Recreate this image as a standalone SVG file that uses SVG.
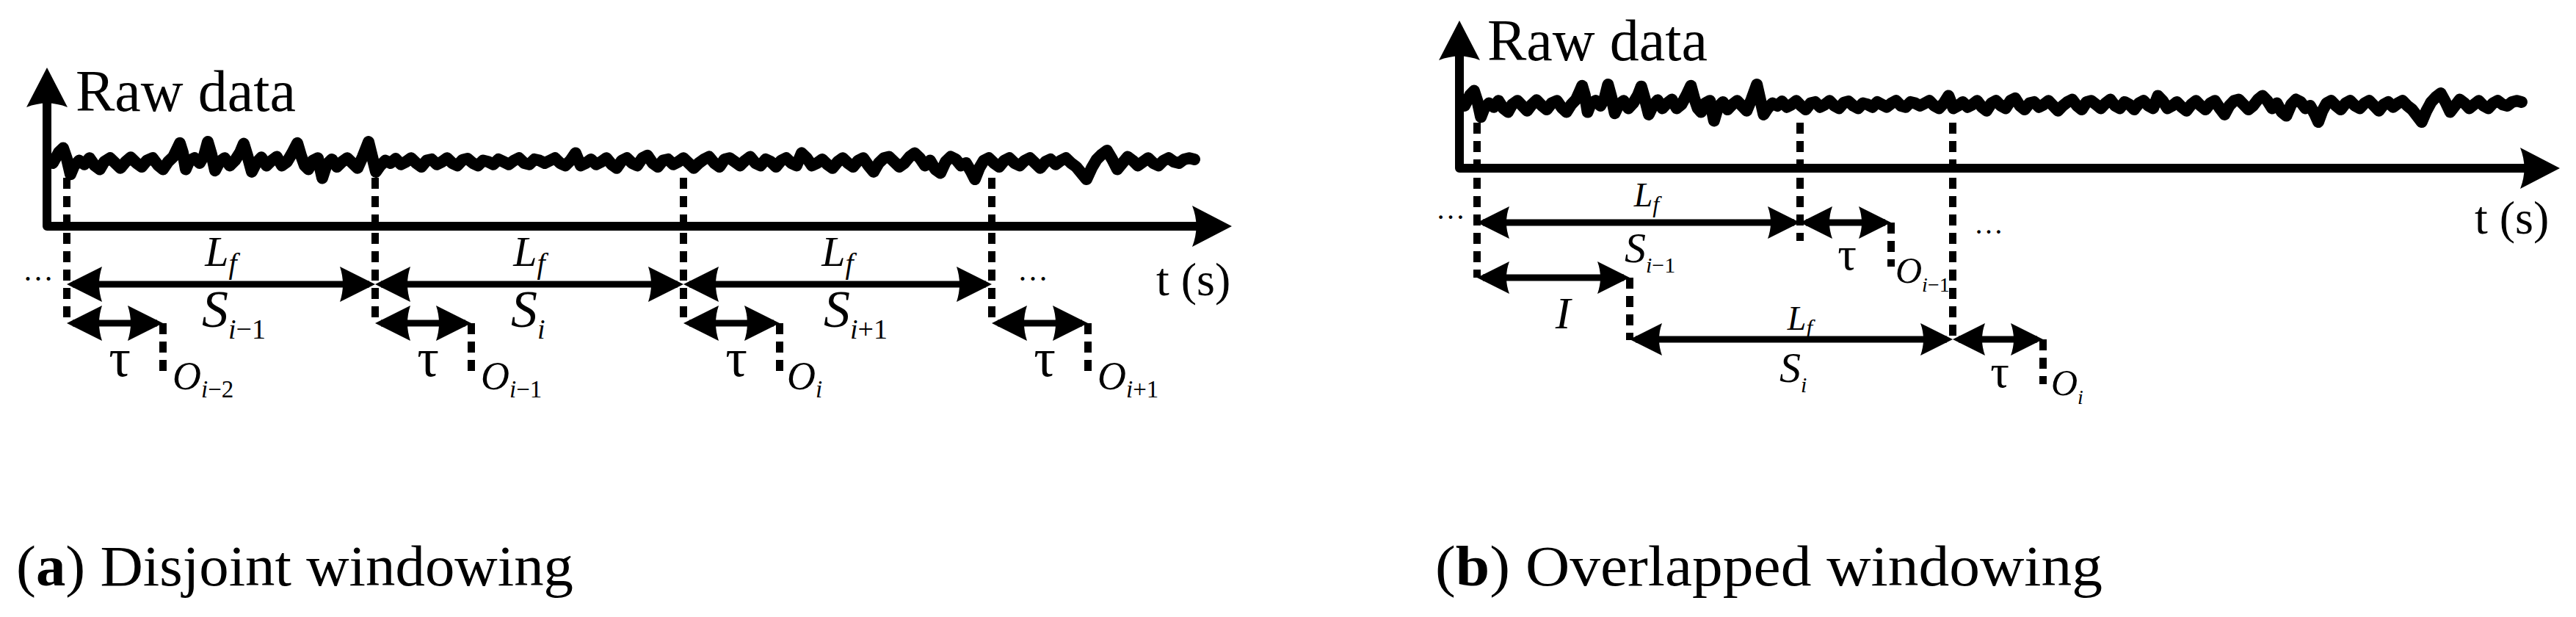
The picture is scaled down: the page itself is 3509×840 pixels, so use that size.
<svg xmlns="http://www.w3.org/2000/svg" xmlns:xlink="http://www.w3.org/1999/xlink" width="3509" height="840" viewBox="0 0 3509 840">
<style>
.bg{fill:#ffffff}
text{font-family:"Liberation Serif","Times New Roman",serif;fill:#000}
.it{font-style:italic}
.up{font-style:normal}
.axis{fill:none;stroke:#000;stroke-width:12;stroke-linejoin:round}
.sig{fill:none;stroke:#000;stroke-width:16;stroke-linejoin:round;stroke-linecap:round}
.dash{fill:none;stroke:#000;stroke-width:10;stroke-dasharray:15 10}
.dim{fill:none;stroke:#000;stroke-width:9}
.mk{fill:#000;stroke:none}
</style>
<defs>
<marker id="axh" markerUnits="userSpaceOnUse" viewBox="-60 -30 64 60" markerWidth="64" markerHeight="60" refX="-20" refY="0" orient="auto-start-reverse">
<path class="mk" d="M0,0 L-54,-28 Q-43,0 -54,28 Z"/>
</marker>
<marker id="dha" markerUnits="userSpaceOnUse" viewBox="-52 -26 56 52" markerWidth="56" markerHeight="52" refX="-8" refY="0" orient="auto-start-reverse">
<path class="mk" d="M0,0 L-48,-24 Q-40,0 -48,24 Z"/>
</marker>
<marker id="dhb" markerUnits="userSpaceOnUse" viewBox="-52 -26 56 52" markerWidth="56" markerHeight="52" refX="-8" refY="0" orient="auto-start-reverse">
<path class="mk" d="M0,0 L-44,-22 Q-36,0 -44,22 Z"/>
</marker>
<path id="sig" class="sig" vector-effect="non-scaling-stroke" d="M72,222 L80,205 86,198 91,215 96,240 101,226 108,218 115,224 122,214 129,226 136,232 142,220 150,214 157,222 164,230 171,220 178,213 186,222 193,228 200,218 208,214 215,225 222,232 229,220 236,212 241,200 245,190 249,205 253,232 258,218 265,214 272,222 278,210 283,188 288,208 293,234 299,220 306,214 313,226 320,218 327,205 332,191 337,210 343,236 349,222 356,213 363,226 370,218 377,212 384,226 391,220 398,206 405,190 410,210 415,226 420,232 426,218 433,214 439,246 445,224 452,216 459,228 466,220 473,214 480,222 487,230 494,212 498,200 502,188 507,212 512,236 518,226 525,218 532,222 539,215 546,224 553,220 560,214 567,222 574,228 581,218 588,216 595,224 602,220 609,214 616,222 623,226 630,217 637,215 644,222 651,226 658,218 665,220 672,224 679,216 686,220 693,224 700,218 707,214 714,222 721,224 728,216 735,218 742,222 749,218 756,214 763,222 770,226 777,218 784,206 791,226 798,222 805,216 812,224 819,220 826,214 833,224 840,230 847,218 854,214 861,222 868,226 875,214 882,210 889,222 896,228 903,218 910,216 917,224 924,220 931,214 938,222 945,230 952,222 959,216 966,212 973,222 980,228 987,216 994,214 1001,220 1008,226 1015,218 1022,212 1029,222 1036,226 1043,216 1050,220 1057,228 1064,218 1071,214 1078,222 1085,226 1092,206 1099,214 1106,226 1113,222 1120,216 1127,224 1134,230 1141,220 1148,214 1155,222 1162,228 1169,218 1176,214 1183,226 1190,236 1197,222 1204,214 1211,212 1218,220 1225,228 1232,222 1239,212 1246,206 1253,214 1260,226 1267,218 1274,232 1281,238 1288,220 1295,212 1302,216 1309,226 1316,222 1323,236 1328,248 1334,230 1340,218 1347,214 1354,222 1361,228 1368,218 1375,214 1382,222 1389,226 1396,218 1403,214 1410,222 1417,230 1424,220 1431,216 1438,224 1445,218 1452,214 1459,222 1466,228 1473,238 1480,248 1487,230 1494,216 1501,208 1508,202 1515,216 1522,232 1529,222 1536,212 1543,218 1550,226 1557,220 1564,214 1571,222 1578,226 1585,218 1592,214 1599,220 1606,222 1613,216 1620,214 1627,216"/>
</defs>
<rect class="bg" x="0" y="0" width="3509" height="840"/>

<!-- Panel (a): Disjoint windowing -->
<g id="panel-a">
  <g id="a-axes">
    <path class="axis" d="M64,112 L64,308 L1658,308" marker-start="url(#axh)" marker-end="url(#axh)"/>
    <text x="103" y="151" font-size="80">Raw data</text>
    <text x="1575" y="402" font-size="64">t (s)</text>
  </g>
  <g id="a-signal"><use xlink:href="#sig" href="#sig" transform="matrix(1 0 0 0.85 0 33.3)"/></g>
  <g id="a-guides">
    <path class="dash" d="M91,242 V440 M511,242 V440 M931,242 V440 M1351,242 V440"/>
    <path class="dash" d="M222,440 V507 M642,440 V507 M1062,440 V507 M1482,440 V507"/>
  </g>
  <g id="a-connectors">
    <path class="dim" d="M99,387 H503" marker-start="url(#dha)" marker-end="url(#dha)"/>
    <path class="dim" d="M519,387 H923" marker-start="url(#dha)" marker-end="url(#dha)"/>
    <path class="dim" d="M939,387 H1343" marker-start="url(#dha)" marker-end="url(#dha)"/>
    <path class="dim" d="M99,440 H214" marker-start="url(#dha)" marker-end="url(#dha)"/>
    <path class="dim" d="M519,440 H634" marker-start="url(#dha)" marker-end="url(#dha)"/>
    <path class="dim" d="M939,440 H1054" marker-start="url(#dha)" marker-end="url(#dha)"/>
    <path class="dim" d="M1359,440 H1474" marker-start="url(#dha)" marker-end="url(#dha)"/>
  </g>
  <g id="a-window-1">
    <text x="31" y="382" font-size="42">…</text>
    <text x="301" y="362" font-size="58" text-anchor="middle" class="it">L<tspan font-size="40" dy="10">f</tspan></text>
    <text x="275" y="445" font-size="72" class="it">S<tspan font-size="38" dy="16">i</tspan><tspan font-size="38" class="up">−1</tspan></text>
    <text x="163" y="512" font-size="74" text-anchor="middle">τ</text>
    <text x="235" y="530" font-size="54" class="it">O<tspan font-size="33" dy="11">i</tspan><tspan font-size="33" class="up">−2</tspan></text>
  </g>
  <g id="a-window-2">
    <text x="721" y="362" font-size="58" text-anchor="middle" class="it">L<tspan font-size="40" dy="10">f</tspan></text>
    <text x="696" y="445" font-size="72" class="it">S<tspan font-size="38" dy="16">i</tspan></text>
    <text x="583" y="512" font-size="74" text-anchor="middle">τ</text>
    <text x="655" y="530" font-size="54" class="it">O<tspan font-size="33" dy="11">i</tspan><tspan font-size="33" class="up">−1</tspan></text>
  </g>
  <g id="a-window-3">
    <text x="1141" y="362" font-size="58" text-anchor="middle" class="it">L<tspan font-size="40" dy="10">f</tspan></text>
    <text x="1122" y="445" font-size="72" class="it">S<tspan font-size="38" dy="16">i</tspan><tspan font-size="38" class="up">+1</tspan></text>
    <text x="1003" y="512" font-size="74" text-anchor="middle">τ</text>
    <text x="1072" y="530" font-size="54" class="it">O<tspan font-size="33" dy="11">i</tspan></text>
  </g>
  <g id="a-window-4">
    <text x="1386" y="382" font-size="42">…</text>
    <text x="1423" y="512" font-size="74" text-anchor="middle">τ</text>
    <text x="1495" y="530" font-size="54" class="it">O<tspan font-size="33" dy="11">i</tspan><tspan font-size="33" class="up">+1</tspan></text>
  </g>
  <text id="caption-a" x="22" y="797" font-size="78" textLength="759" lengthAdjust="spacingAndGlyphs">(<tspan font-weight="bold">a</tspan>) Disjoint windowing</text>
</g>

<!-- Panel (b): Overlapped windowing -->
<g id="panel-b">
  <g id="b-axes">
    <path class="axis" d="M1988,48 L1988,229 L3467,229" marker-start="url(#axh)" marker-end="url(#axh)"/>
    <text x="2026" y="82" font-size="80">Raw data</text>
    <text x="3371" y="318" font-size="64">t (s)</text>
  </g>
  <g id="b-signal"><use xlink:href="#sig" href="#sig" transform="matrix(0.926 0 0 0.85 1928.3 -44.7)"/></g>
  <g id="b-guides">
    <path class="dash" d="M2012,167 V378 M2452,167 V328 M2660,167 V462"/>
    <path class="dash" d="M2576,303 V363 M2220,378 V463 M2783,462 V523"/>
  </g>
  <g id="b-connectors">
    <path class="dim" d="M2020,303 H2444" marker-start="url(#dhb)" marker-end="url(#dhb)"/>
    <path class="dim" d="M2460,303 H2568" marker-start="url(#dhb)" marker-end="url(#dhb)"/>
    <path class="dim" d="M2020,378 H2212" marker-start="url(#dhb)" marker-end="url(#dhb)"/>
    <path class="dim" d="M2228,462 H2652" marker-start="url(#dhb)" marker-end="url(#dhb)"/>
    <path class="dim" d="M2668,462 H2775" marker-start="url(#dhb)" marker-end="url(#dhb)"/>
  </g>
  <g id="b-window-1">
    <text x="1956" y="298" font-size="40">…</text>
    <text x="2243" y="281" font-size="46" text-anchor="middle" class="it">L<tspan font-size="32" dy="8">f</tspan></text>
    <text x="2213" y="357" font-size="58" class="it">S<tspan font-size="30" dy="14">i</tspan><tspan font-size="30" class="up">−1</tspan></text>
    <text x="2516" y="367" font-size="64" text-anchor="middle">τ</text>
    <text x="2582" y="385" font-size="50" class="it">O<tspan font-size="28" dy="12">i</tspan><tspan font-size="28" class="up">−1</tspan></text>
    <text x="2689" y="318" font-size="40">…</text>
  </g>
  <g id="b-interval">
    <text x="2129" y="447" font-size="62" text-anchor="middle" class="it">I</text>
  </g>
  <g id="b-window-2">
    <text x="2452" y="449" font-size="46" text-anchor="middle" class="it">L<tspan font-size="32" dy="8">f</tspan></text>
    <text x="2424" y="520" font-size="58" class="it">S<tspan font-size="30" dy="14">i</tspan></text>
    <text x="2724" y="527" font-size="64" text-anchor="middle">τ</text>
    <text x="2794" y="538" font-size="50" class="it">O<tspan font-size="28" dy="12">i</tspan></text>
  </g>
  <text id="caption-b" x="1955" y="797" font-size="78" textLength="909" lengthAdjust="spacingAndGlyphs">(<tspan font-weight="bold">b</tspan>) Overlapped windowing</text>
</g>
</svg>
